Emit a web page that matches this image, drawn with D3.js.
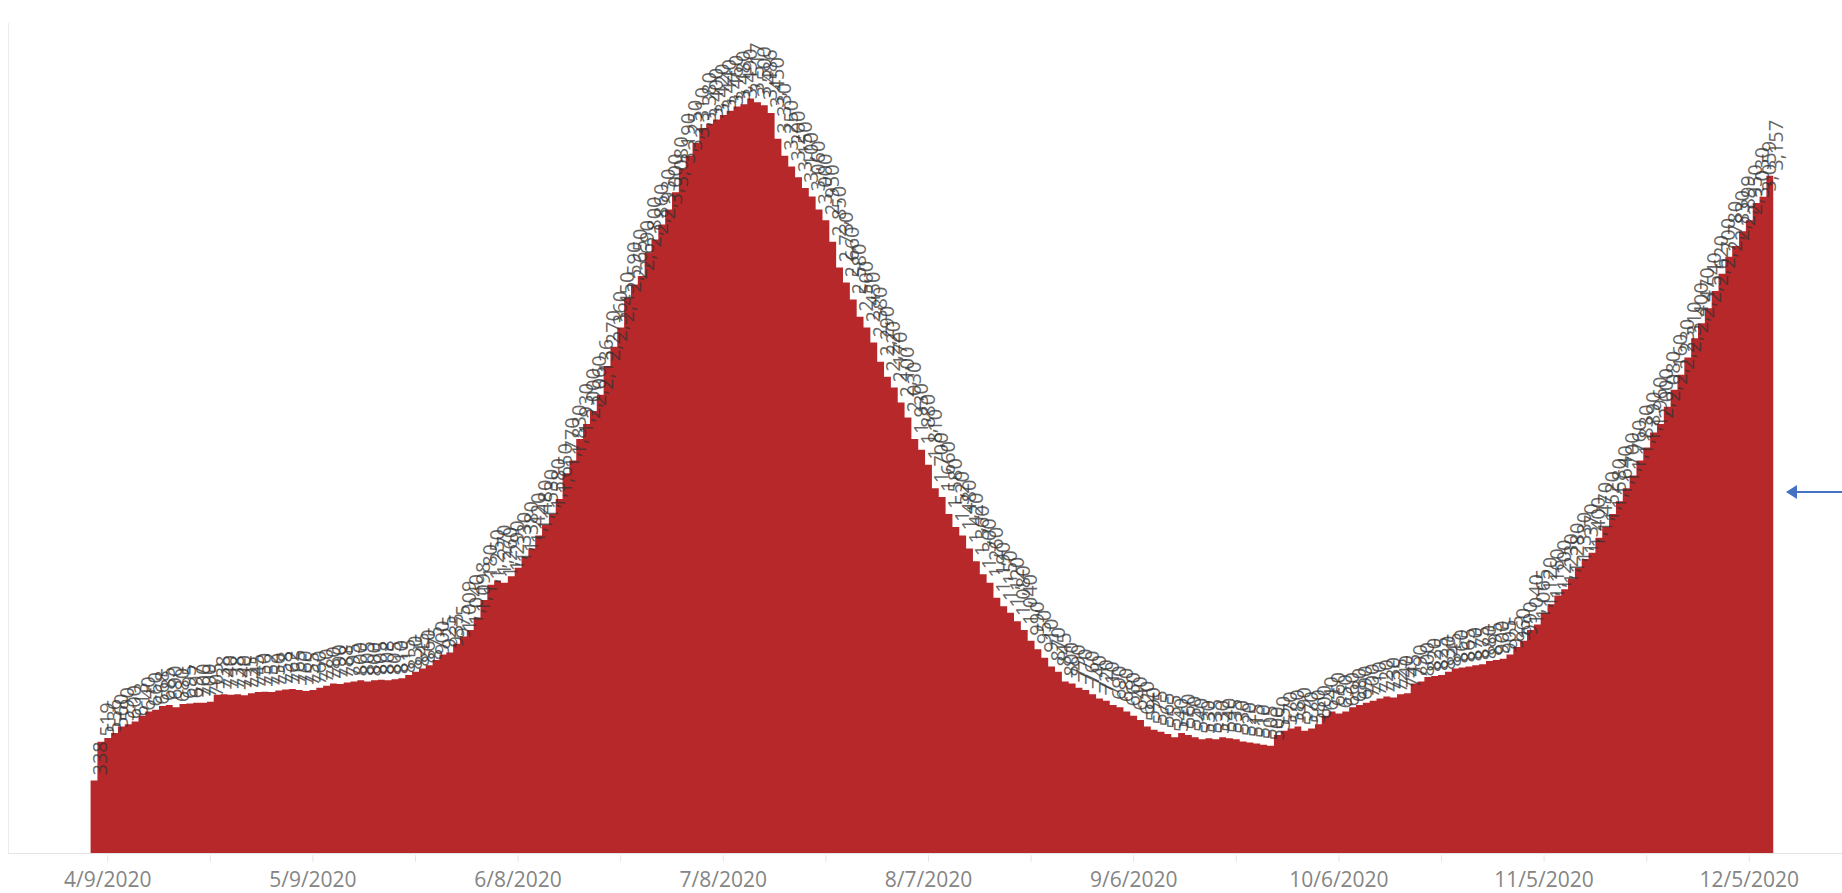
<!DOCTYPE html>
<html>
<head>
<meta charset="utf-8">
<script src="https://cdn.jsdelivr.net/npm/d3@7"></script>
<style>
  body { margin: 0; background: #fff; }
  svg { display: block; }
</style>
</head>
<body>
<svg id="chart" width="1842" height="893"></svg>
<script>
// first day of the series, one value per day after that
var startDate = "2020-04-07";

var values = [
  338, 519, 536, 560, 590, 600, 613, 640, 660, 668,
  685, 690, 680, 695, 697, 700, 700, 705, 738, 740,
  738, 740, 735, 745, 750, 752, 750, 758, 762, 765,
  760, 755, 760, 770, 780, 790, 788, 795, 800, 805,
  800, 805, 808, 805, 810, 815, 830, 845, 860, 875,
  900, 925, 935, 975, 1009, 1040, 1098, 1180, 1250, 1270,
  1260, 1290, 1330, 1380, 1420, 1480, 1530, 1580, 1650, 1770,
  1830, 1930, 2000, 2060, 2136, 2270, 2360, 2450, 2590, 2650,
  2690, 2800, 2860, 2930, 3000, 3080, 3190, 3250, 3310, 3380,
  3400, 3420, 3440, 3460, 3480, 3490, 3517, 3500, 3486, 3450,
  3330, 3250, 3200, 3150, 3100, 3060, 3000, 2950, 2850, 2730,
  2660, 2580, 2500, 2450, 2380, 2290, 2220, 2170, 2100, 2030,
  1930, 1880, 1810, 1700, 1660, 1580, 1520, 1480, 1420, 1360,
  1300, 1260, 1190, 1150, 1120, 1080, 1040, 990, 950, 910,
  870, 845, 800, 790, 770, 760, 740, 720, 710, 690,
  680, 660, 640, 620, 590, 575, 565, 555, 540, 560,
  550, 540, 530, 535, 530, 540, 535, 530, 520, 515,
  510, 505, 500, 550, 570, 580, 590, 570, 580, 600,
  640, 660, 650, 660, 680, 690, 700, 710, 720, 730,
  725, 740, 745, 790, 800, 820, 825, 830, 845, 860,
  865, 870, 875, 880, 895, 900, 905, 925, 960, 990,
  1040, 1065, 1120, 1160, 1200, 1230, 1280, 1330, 1370, 1400,
  1470, 1520, 1580, 1640, 1700, 1760, 1830, 1890, 1960, 2000,
  2080, 2160, 2230, 2310, 2400, 2470, 2540, 2620, 2700, 2780,
  2830, 2899, 2950, 3030, 3059, 3157
];

var tickLabels = ["4/9/2020", "5/9/2020", "6/8/2020", "7/8/2020", "8/7/2020",
                  "9/6/2020", "10/6/2020", "11/5/2020", "12/5/2020"];

var svg = d3.select("#chart");
var dayMs = 864e5;
var parseDay = d3.utcParse("%Y-%m-%d");
var parseTick = d3.utcParse("%m/%d/%Y");

var start = parseDay(startDate);
var data = values.map(function (v, i) {
    return { date: d3.utcDay.offset(start, i), value: v };
});

var tickDates = tickLabels.map(function (t) { return parseTick(t); });

// 4/9 .. 12/5 sits between these pixels
var x = d3.scaleUtc()
    .domain([tickDates[0], tickDates[tickDates.length - 1]])
    .range([107.7, 1749.3]);

var y = d3.scaleLinear()
    .domain([0, 3860])
    .range([853, 25]);

// light frame: left edge and baseline
svg.append("line")
    .attr("x1", 8.5).attr("x2", 8.5)
    .attr("y1", 23).attr("y2", 853)
    .attr("stroke", "#ececec");

// step area: each day is a flat step centred on its date
var pts = data.map(function (d) {
    return { t: new Date(+d.date - dayMs / 2), value: d.value };
});
var last = data[data.length - 1];
pts.push({ t: new Date(+last.date + dayMs / 2), value: last.value });

var area = d3.area()
    .curve(d3.curveStepAfter)
    .x(function (d) { return x(d.t); })
    .y0(y(0))
    .y1(function (d) { return y(d.value); });

svg.append("path")
    .datum(pts)
    .attr("d", area)
    .attr("fill", "#b7282a");

svg.append("line")
    .attr("x1", 8).attr("x2", 1842)
    .attr("y1", 853.5).attr("y2", 853.5)
    .attr("stroke", "#e4e4e4");

// minor ticks every 15 days, labels every 30
var minorTicks = d3.range(0, 17).map(function (k) {
    return d3.utcDay.offset(tickDates[0], k * 15);
});

svg.selectAll(".tick")
    .data(minorTicks)
    .enter()
    .append("line")
    .attr("class", "tick")
    .attr("x1", function (d) { return x(d); })
    .attr("x2", function (d) { return x(d); })
    .attr("y1", 855)
    .attr("y2", 862)
    .attr("stroke", "#e6e6e6");

svg.selectAll(".tickLabel")
    .data(tickDates)
    .enter()
    .append("text")
    .attr("class", "tickLabel")
    .attr("x", function (d) { return x(d); })
    .attr("y", 886.5)
    .attr("text-anchor", "middle")
    .style("font-family", "'Open Sans', sans-serif")
    .style("font-size", "21px")
    .style("fill", "#858585")
    .text(function (d, i) { return tickLabels[i]; });

// value labels, rotated, standing on each step
var fmt = d3.format(",");
svg.selectAll(".valueLabel")
    .data(data)
    .enter()
    .append("text")
    .attr("class", "valueLabel")
    .attr("transform", function (d) {
        return "translate(" + (x(d.date) + 6) + "," + (y(d.value) - 5) + ") rotate(-90)";
    })
    .attr("dy", "0.35em")
    .style("font-family", "'Open Sans', sans-serif")
    .style("font-size", "20px")
    .style("fill", "#333")
    .style("fill-opacity", 0.75)
    .text(function (d) { return fmt(d.value); });

// blue arrow at the right edge
svg.append("line")
    .attr("x1", 1842).attr("x2", 1787)
    .attr("y1", 492).attr("y2", 492)
    .attr("stroke", "#4472c4")
    .attr("stroke-width", 2);

svg.append("path")
    .attr("d", "M" + 1797 + "," + 485 + " L" + 1786 + "," + 492 + " L" + 1797 + "," + 499 + " z")
    .attr("fill", "#4472c4");
</script>
</body>
</html>
